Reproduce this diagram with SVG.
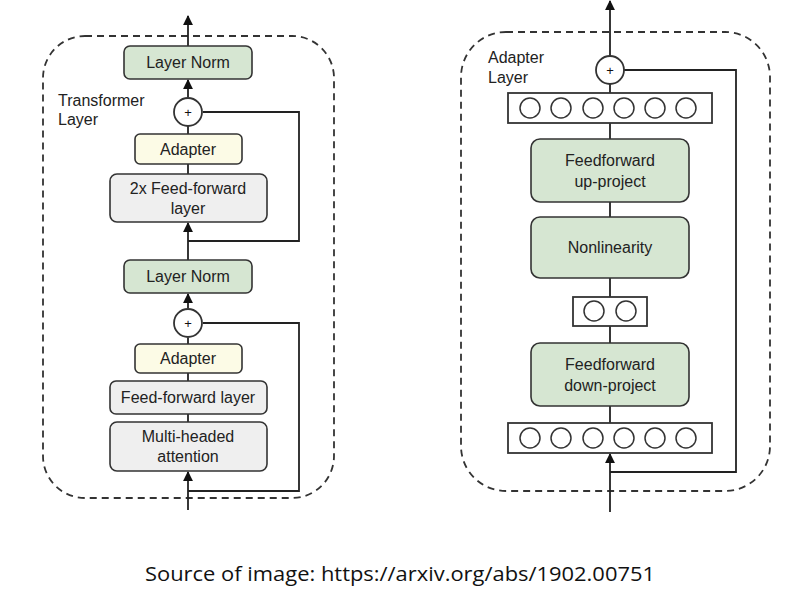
<svg xmlns="http://www.w3.org/2000/svg" width="799" height="595" viewBox="0 0 799 595">
<defs>
<style>
.t{font-family:"Liberation Sans",Arial,sans-serif;font-size:16px;fill:#222;text-anchor:middle}
.lbl{font-family:"Liberation Sans",Arial,sans-serif;font-size:16px;fill:#222}
.box{stroke:#333;stroke-width:1.6}
.g{fill:#d6e6d2}
.y{fill:#fcfbe6}
.w{fill:#efefef}
.ln{fill:none;stroke:#222;stroke-width:1.8}
.dash{fill:none;stroke:#333;stroke-width:1.8;stroke-dasharray:7 5}
.nb{fill:#fff;stroke:#333;stroke-width:1.8}
.nc{fill:#fff;stroke:#333;stroke-width:1.5}
.p{font-family:"Liberation Sans",Arial,sans-serif;font-size:13px;fill:#111;text-anchor:middle}
</style>
<marker id="ah" viewBox="0 0 10 10" refX="9" refY="5" markerWidth="5.5" markerHeight="5.5" orient="auto-start-reverse" markerUnits="strokeWidth">
<path d="M0,0 L10,5 L0,10 z" fill="#111"/>
</marker>
</defs>
<rect width="799" height="595" fill="#fff"/>

<g id="transformer-panel">
<rect class="dash" x="43" y="36" width="291" height="462" rx="42"/>
<text class="lbl" x="58" y="106">Transformer</text>
<text class="lbl" x="58" y="125">Layer</text>
</g>
<g id="adapter-panel">
<rect class="dash" x="461" y="32" width="309" height="459" rx="45" fill="#fbfbee"/>
<text class="lbl" x="488" y="63">Adapter</text>
<text class="lbl" x="488" y="83">Layer</text>
</g>

<g id="connectors">
<line class="ln" x1="188" y1="46" x2="188" y2="16" marker-end="url(#ah)"/>
<line class="ln" x1="188" y1="97" x2="188" y2="80" marker-end="url(#ah)"/>
<line class="ln" x1="188" y1="134" x2="188" y2="126"/>
<line class="ln" x1="188" y1="174" x2="188" y2="164"/>
<polyline class="ln" points="203,112 299,112 299,241 188,241"/>
<line class="ln" x1="188" y1="260" x2="188" y2="223" marker-end="url(#ah)"/>
<line class="ln" x1="188" y1="308" x2="188" y2="294" marker-end="url(#ah)"/>
<line class="ln" x1="188" y1="344" x2="188" y2="338"/>
<line class="ln" x1="188" y1="381" x2="188" y2="373"/>
<line class="ln" x1="188" y1="422" x2="188" y2="414"/>
<polyline class="ln" points="203,323 299,323 299,491 188,491"/>
<line class="ln" x1="188" y1="510" x2="188" y2="472" marker-end="url(#ah)"/>
<line class="ln" x1="610" y1="56" x2="610" y2="1" marker-end="url(#ah)"/>
<line class="ln" x1="610" y1="93" x2="610" y2="84"/>
<line class="ln" x1="610" y1="139" x2="610" y2="123"/>
<line class="ln" x1="610" y1="217" x2="610" y2="202"/>
<line class="ln" x1="610" y1="297" x2="610" y2="278"/>
<line class="ln" x1="610" y1="343" x2="610" y2="326"/>
<line class="ln" x1="610" y1="423" x2="610" y2="406"/>
<polyline class="ln" points="624,70 736,70 736,472 610,472"/>
<line class="ln" x1="610" y1="512" x2="610" y2="454" marker-end="url(#ah)"/>
</g>

<g id="layernorm-top"><rect class="box g" x="124" y="46" width="128" height="33" rx="6"/><text class="t" x="188" y="68">Layer Norm</text></g>
<g id="plus-top"><circle class="nb" cx="188" cy="112" r="14"/><text class="p" x="188" y="117">+</text></g>
<g id="adapter-top"><rect class="box y" x="135" y="134" width="107" height="30" rx="5"/><text class="t" x="188" y="155">Adapter</text></g>
<g id="ff2x"><rect class="box w" x="110" y="174" width="157" height="48" rx="7"/><text class="t" x="188" y="194">2x Feed-forward</text><text class="t" x="188" y="214">layer</text></g>
<g id="layernorm-bottom"><rect class="box g" x="124" y="260" width="128" height="33" rx="6"/><text class="t" x="188" y="282">Layer Norm</text></g>
<g id="plus-bottom"><circle class="nb" cx="188" cy="323" r="14"/><text class="p" x="188" y="328">+</text></g>
<g id="adapter-bottom"><rect class="box y" x="135" y="344" width="107" height="29" rx="5"/><text class="t" x="188" y="364">Adapter</text></g>
<g id="ff"><rect class="box w" x="110" y="381" width="157" height="33" rx="6"/><text class="t" x="188" y="403">Feed-forward layer</text></g>
<g id="mha"><rect class="box w" x="110" y="422" width="157" height="49" rx="7"/><text class="t" x="188" y="442">Multi-headed</text><text class="t" x="188" y="462">attention</text></g>

<g id="plus-adapter"><circle class="nb" cx="610" cy="70" r="14"/><text class="p" x="610" y="75">+</text></g>
<g id="neurons-top"><rect class="nb" x="508" y="93" width="204" height="30"/>
<circle class="nc" cx="530" cy="108" r="10"/><circle class="nc" cx="561" cy="108" r="10"/><circle class="nc" cx="593" cy="108" r="10"/><circle class="nc" cx="624" cy="108" r="10"/><circle class="nc" cx="655" cy="108" r="10"/><circle class="nc" cx="686" cy="108" r="10"/></g>
<g id="up-project"><rect class="box g" x="531" y="139" width="158" height="63" rx="9"/><text class="t" x="610" y="166">Feedforward</text><text class="t" x="610" y="187">up-project</text></g>
<g id="nonlinearity"><rect class="box g" x="531" y="217" width="158" height="61" rx="9"/><text class="t" x="610" y="253">Nonlinearity</text></g>
<g id="neurons-mid"><rect class="nb" x="573" y="297" width="74" height="29"/>
<circle class="nc" cx="594" cy="311" r="10"/><circle class="nc" cx="626" cy="311" r="10"/></g>
<g id="down-project"><rect class="box g" x="531" y="343" width="158" height="63" rx="9"/><text class="t" x="610" y="370">Feedforward</text><text class="t" x="610" y="391">down-project</text></g>
<g id="neurons-bottom"><rect class="nb" x="508" y="423" width="204" height="30"/>
<circle class="nc" cx="530" cy="438" r="10"/><circle class="nc" cx="561" cy="438" r="10"/><circle class="nc" cx="593" cy="438" r="10"/><circle class="nc" cx="624" cy="438" r="10"/><circle class="nc" cx="655" cy="438" r="10"/><circle class="nc" cx="686" cy="438" r="10"/></g>

<g id="caption"><text x="145" y="581" style="font-family:'Open Sans','Liberation Sans',sans-serif;font-size:20px;fill:#111" textLength="510" lengthAdjust="spacingAndGlyphs">Source of image: https://arxiv.org/abs/1902.00751</text></g>
</svg>
